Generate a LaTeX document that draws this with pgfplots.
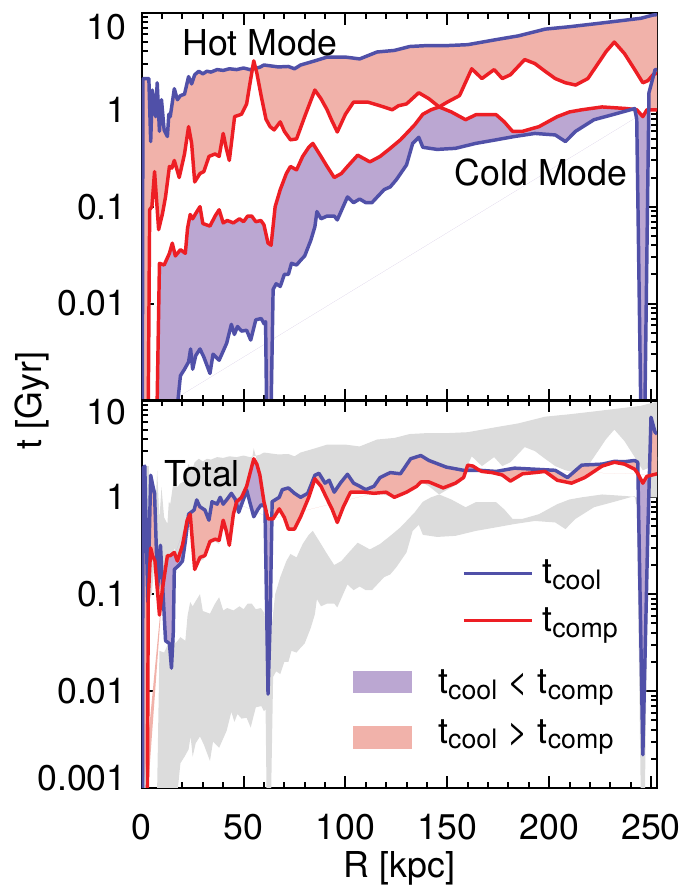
\documentclass[border=0pt]{standalone}
\usepackage{fontspec}
\setmainfont{TeX Gyre Heros}
\usepackage{pgfplots}
\pgfplotsset{compat=1.18}
\usepackage{pgfplotstable}

\definecolor{lblue}{RGB}{80,80,168}
\definecolor{lred}{RGB}{237,30,36}
\definecolor{fpurple}{RGB}{187,167,210}
\definecolor{fpink}{RGB}{241,178,170}
\definecolor{fgray}{RGB}{220,220,220}

\newcommand{\bigf}{\fontsize{36}{40}\selectfont}
\newcommand{\sub}[1]{\raisebox{-6pt}{\fontsize{27}{30}\selectfont #1}}

% hot mode t_cool
\pgfplotstableread{
R v
0.3 0.0008
0.6 2.1
2 2.1
3.5 2.1
4.4 0.47
5.2 1.6
6.8 0.85
7.6 1.9
8.7 0.6
9.7 1.27
11 0.62
12.6 0.53
13.3 0.9
14 0.85
16 1.65
17.5 1.27
19 1.4
21 1.45
23 2.2
24.5 1.85
26 2.3
28 2.5
30 2.35
32 2.5
34 2.45
37 2.6
40 2.55
43 2.65
46.6 2.6
50 2.7
53 2.6
55 2.65
58 2.75
60 2.9
67 2.77
72 2.8
75 2.65
78 2.9
85 3.2
91 3.5
100 3.5
107 3.35
115.5 3.95
124 4.1
131.6 4.5
140 4.6
150 4.6
160 4.7
174 5.3
185 5.8
198 6.8
210 7.2
222 7.7
235 8.3
245 8.8
251 9.5
253 9.6
}\tabhb
% hot mode t_comp
\pgfplotstableread{
R v
3.2 0.0008
3.9 0.093
5.0 0.1
6.3 0.23
8.3 0.058
10.2 0.085
11.7 0.127
13.6 0.26
14.8 0.25
16 0.3
18.4 0.2
21 0.35
23 0.67
24.5 0.45
26 0.18
28.6 0.22
30.5 0.23
33 0.33
36 0.35
38 0.33
40 0.57
41.5 0.4
43 0.3
45.6 0.85
49 0.9
51.5 1.15
53 1.8
55 3.2
56.5 2.4
58.7 1.37
61 0.8
63 0.67
65 0.62
68 0.75
70 0.6
73 0.49
76 0.5
80 0.85
85 1.6
88 1.3
91 1.0
93 0.8
96 0.59
100 0.9
104 1.2
111 1.2
117 1.1
123 1.0
126 1.1
130 1.15
136 1.5
141 1.3
146 1.07
150 1.2
156 1.4
162 2.65
167 2.1
173 2.6
177 2.1
181 2.3
188 3.3
193 3.0
198 2.5
203 2.1
208 1.9
213 1.8
219 2.1
224 3.0
228 4.0
232 5.0
237 3.8
242 2.6
246 1.9
248.5 2.0
251 2.3
253 2.4
}\tabhr
% cold mode t_comp
\pgfplotstableread{
R v
7.5 0.0008
8.7 0.026
11 0.025
13.6 0.033
15 0.042
16.5 0.031
19 0.036
21.4 0.033
22.5 0.06
23.8 0.083
25 0.075
26.5 0.085
28.6 0.1
30 0.067
33.5 0.063
36 0.08
38 0.093
40 0.068
42 0.072
45 0.068
48 0.075
50 0.07
52 0.08
54 0.08
56 0.07
58.5 0.072
60 0.065
62 0.042
63.5 0.04
65.5 0.1
68 0.15
71 0.22
73 0.26
76 0.24
79 0.33
82 0.41
84 0.45
88 0.33
91 0.26
94.5 0.2
98 0.22
101 0.26
106 0.34
112 0.29
117 0.33
122 0.4
127 0.49
131 0.6
134 0.7
138 0.9
142 1.0
146 1.07
152 0.95
159 0.79
164 0.89
174 0.89
178 0.75
182 0.6
187 0.6
195 0.67
204 0.85
210 0.95
216 1.0
226 1.07
238 1.03
243 1.0
246 0.85
248 1.0
248.9 1.0
253 1.0
}\tabcr
% cold mode t_cool
\pgfplotstableread{
R v
7.5 0.0008
17.3 0.0008
19 0.0018
21 0.0021
23 0.0025
24 0.0034
25 0.0021
26.5 0.0029
28.6 0.0034
30.5 0.0028
33.5 0.0019
35 0.003
38 0.0026
41.7 0.0039
44 0.0061
45.5 0.0048
47 0.0058
49 0.0052
51.5 0.0053
53.5 0.0042
56 0.0068
58.7 0.007
60 0.0062
60.8 0.0065
61.3 0.0008
63.5 0.0008
64.5 0.014
66 0.016
68 0.015
70 0.02
72 0.02
73.5 0.026
76 0.025
78 0.028
80 0.031
83 0.045
85 0.062
86 0.089
88 0.075
91 0.08
94.5 0.08
96 0.073
101 0.126
104 0.11
107 0.12
110 0.11
113 0.11
119 0.15
122 0.16
125 0.19
130 0.27
133 0.45
136 0.52
138 0.41
145 0.39
154 0.4
164 0.45
174 0.49
183 0.53
193 0.57
203 0.55
208 0.47
213 0.6
222 0.79
232 0.9
242 1.03
243 0.8
245 0.0008
247 0.0008
248.9 1.0
249 1.5
252 2.6
253 2.6
}\tabcb
% total t_cool
\pgfplotstableread{
R v
0.4 0.0008
0.6 2.0
1.5 2.1
2.4 0.3
3 0.083
4.4 1.69
5.5 1.3
6.3 1.1
7.8 0.114
9.2 0.32
10.2 0.125
10.3 0.118
11.7 0.033
13.6 0.031
14.6 0.0173
15.5 0.041
16 0.18
18.4 0.2
20 0.22
21.4 0.35
22.8 0.61
23 0.67
25.7 0.74
27 0.94
28.5 0.8
31 0.74
33 0.58
34.5 0.9
37 0.85
38.5 1.0
40 0.85
42 0.96
44 1.1
46 0.95
46.45 0.875
47.6 0.7
50 0.96
51.5 1.19
53 0.9
55 0.63
57 0.75
58.7 0.84
60.5 0.8
62 0.0093
63 0.05
63.9 0.6
64 0.9
67.5 1.0
69 1.2
72 1.25
75 1.1
78 1.0
81.5 1.1
85 1.69
87 1.77
90 1.4
92 1.5
94.5 1.13
97.5 1.4
101 1.73
104 1.4
107 1.3
110 1.2
114 1.3
117 1.6
122 1.8
127 1.75
132 2.5
137 2.7
141 2.4
149.5 2.05
158 1.9
159.2 1.9
165.8 1.9
166 1.9
174 1.85
183 2.0
193 1.95
203 1.9
209 1.6
216 2.15
226 2.2
232 2.35
237 2.33
242 2.4
243.5 2.3
243.6 1.75
246 0.0022
248.5 0.5
249.2 1.67
250 6.7
252 4.7
253 4.5
}\tabtb
% total t_comp
\pgfplotstableread{
R v
2.8 0.0008
3.2 0.09
4.4 0.3
5.3 0.25
6.5 0.22
8.7 0.061
10.2 0.114
10.3 0.118
12.6 0.25
14 0.25
16 0.27
17.5 0.22
20 0.32
22.3 0.58
22.8 0.61
23.8 0.67
26 0.18
28.6 0.24
31 0.25
33.5 0.35
36 0.37
38 0.36
40 0.58
41.5 0.45
43 0.32
45 0.67
46.45 0.875
46.6 0.9
49 1.0
51.5 1.3
55 2.5
56.5 2.2
58 1.7
60 0.9
62 0.6
63.9 0.6
64.5 0.6
67.5 0.76
70 0.62
72 0.47
75 0.47
78 0.63
82 1.0
85 1.55
88 1.3
91 0.96
93.5 0.75
96 0.55
99 0.8
102.5 1.13
109 1.13
114 1.1
120 1.13
124 1.0
130 1.13
135 1.3
137 1.44
141 1.44
148 1.25
154 1.4
158 1.6
159.2 1.9
160 2.15
162.6 2.1
165.8 1.9
167 1.85
172 1.8
177 1.7
181 1.47
187 1.75
193 1.8
198 1.85
204 1.5
211 1.4
217.5 1.6
226 2.1
232 2.3
237 2.2
242 1.95
243.6 1.75
246 1.4
248 1.65
249.2 1.67
253 1.75
}\tabtr

% closed outlines of the shaded bands: one curve forward, the other backward
\pgfplotstablesort[sort key=R, sort cmp=float >]{\revhr}{\tabhr}
\pgfplotstablesort[sort key=R, sort cmp=float >]{\revcb}{\tabcb}
\pgfplotstablesort[sort key=R, sort cmp=float >]{\revtr}{\tabtr}
\pgfplotstablesort[sort key=R, sort cmp=float <]{\polyhot}{\tabhb}
\pgfplotstablevertcat{\polyhot}{\revhr}
\pgfplotstablesort[sort key=R, sort cmp=float <]{\polycold}{\tabcr}
\pgfplotstablevertcat{\polycold}{\revcb}
\pgfplotstablesort[sort key=R, sort cmp=float <]{\polytot}{\tabtb}
\pgfplotstablevertcat{\polytot}{\revtr}

\tikzset{
  lcool/.style={draw=lblue, line width=3.5pt, line join=round},
  lcomp/.style={draw=lred, line width=3.5pt, line join=round},
}
\pgfplotsset{
  axisbase/.style={
    scale only axis, width=520pt, height=391pt,
    xmin=0, xmax=253, ymin=0.001, ymax=10,
    axis line style={line width=2.4pt},
    tick align=inside, tick pos=both,
    xticklabel pos=lower, yticklabel pos=left,
    xtick={0,50,100,150,200,250},
    minor xtick={10,20,30,40,60,70,80,90,110,120,130,140,160,170,180,190,210,220,230,240},
    minor ytick={0.002,0.003,0.004,0.005,0.006,0.007,0.008,0.009,
      0.02,0.03,0.04,0.05,0.06,0.07,0.08,0.09,
      0.2,0.3,0.4,0.5,0.6,0.7,0.8,0.9,2,3,4,5,6,7,8,9},
    major tick length=12pt, minor tick length=6pt,
    every tick/.style={black, line width=2pt},
    ticklabel style={font=\bigf, inner sep=0pt},
    yticklabel style={anchor=east, xshift=-15pt},
    xticklabel style={anchor=north, yshift=-26pt},
  },
}

\begin{document}
\begin{tikzpicture}

% top panel: hot and cold modes
\begin{axis}[ymode=log, axisbase, at={(143pt,499pt)}, anchor=south west,
    ytick={0.01,0.1,1,10},
    xticklabels={},
    yticklabels={{0.01},{0.1},{1},{\raisebox{-14pt}[\height][\depth]{10}}}]
\addplot[fill=fpink, draw=none] table {\polyhot};
\addplot[fill=fpurple, draw=none, restrict x to domain=0:248.91] table {\polycold};
\addplot[fill=fpink, draw=none, restrict x to domain=248.89:260] table {\polycold};
\addplot[lcool] table {\tabhb};
\addplot[lcomp] table {\tabhr};
\addplot[lcomp] table {\tabcr};
\addplot[lcool] table {\tabcb};
\node[font=\bigf, inner sep=0pt] at (rel axis cs:0.229,0.923) {Hot Mode};
\node[font=\bigf, inner sep=0pt] at (rel axis cs:0.775,0.589) {Cold Mode};
\end{axis}

% bottom panel: total
\begin{axis}[ymode=log, axisbase, at={(143pt,108pt)}, anchor=south west,
    ytick={0.001,0.01,0.1,1,10},
    xticklabels={0,50,100,150,200,250},
    yticklabels={{\raisebox{10pt}[\height][\depth]{0.001}},{0.01},{0.1},{1},{\raisebox{-12pt}[\height][\depth]{10}}}]
\addplot[fill=fgray, draw=none] table {\polyhot};
\addplot[fill=fgray, draw=none] table {\polycold};
\addplot[fill=fpink, draw=none, restrict x to domain=0:10.31] table {\polytot};
\addplot[fill=fpurple, draw=none, restrict x to domain=10.29:22.81] table {\polytot};
\addplot[fill=fpink, draw=none, restrict x to domain=22.79:46.46] table {\polytot};
\addplot[fill=fpurple, draw=none, restrict x to domain=46.44:63.91] table {\polytot};
\addplot[fill=fpink, draw=none, restrict x to domain=63.89:159.21] table {\polytot};
\addplot[fill=fpurple, draw=none, restrict x to domain=159.19:165.81] table {\polytot};
\addplot[fill=fpink, draw=none, restrict x to domain=165.79:243.61] table {\polytot};
\addplot[fill=fpurple, draw=none, restrict x to domain=243.59:249.21] table {\polytot};
\addplot[fill=fpink, draw=none, restrict x to domain=249.19:260] table {\polytot};
\addplot[lcool] table {\tabtb};
\addplot[lcomp] table {\tabtr};
\node[font=\bigf, inner sep=0pt] at (rel axis cs:0.117,0.81) {Total};
% legend
\draw[lcool] (rel axis cs:0.625,0.553) -- (rel axis cs:0.758,0.553);
\draw[lcomp] (rel axis cs:0.625,0.432) -- (rel axis cs:0.758,0.432);
\node[font=\bigf, inner sep=0pt, anchor=base west] at (rel axis cs:0.777,0.527) {t\sub{cool}};
\node[font=\bigf, inner sep=0pt, anchor=base west] at (rel axis cs:0.777,0.404) {t\sub{comp}};
\fill[fpurple] (rel axis cs:0.410,0.244) rectangle (rel axis cs:0.525,0.303);
\fill[fpink] (rel axis cs:0.410,0.100) rectangle (rel axis cs:0.525,0.159);
\node[font=\bigf, inner sep=0pt, anchor=base west] at (rel axis cs:0.575,0.244) {t\sub{cool} < t\sub{comp}};
\node[font=\bigf, inner sep=0pt, anchor=base west] at (rel axis cs:0.575,0.116) {t\sub{cool} > t\sub{comp}};
\end{axis}

\node[font=\bigf, rotate=90, inner sep=0pt] at (32pt,499pt) {t [Gyr]};
\node[font=\bigf, inner sep=0pt] at (403pt,27pt) {R [kpc]};
\path (0pt,0pt) rectangle (696pt,895pt);
\end{tikzpicture}
\end{document}
